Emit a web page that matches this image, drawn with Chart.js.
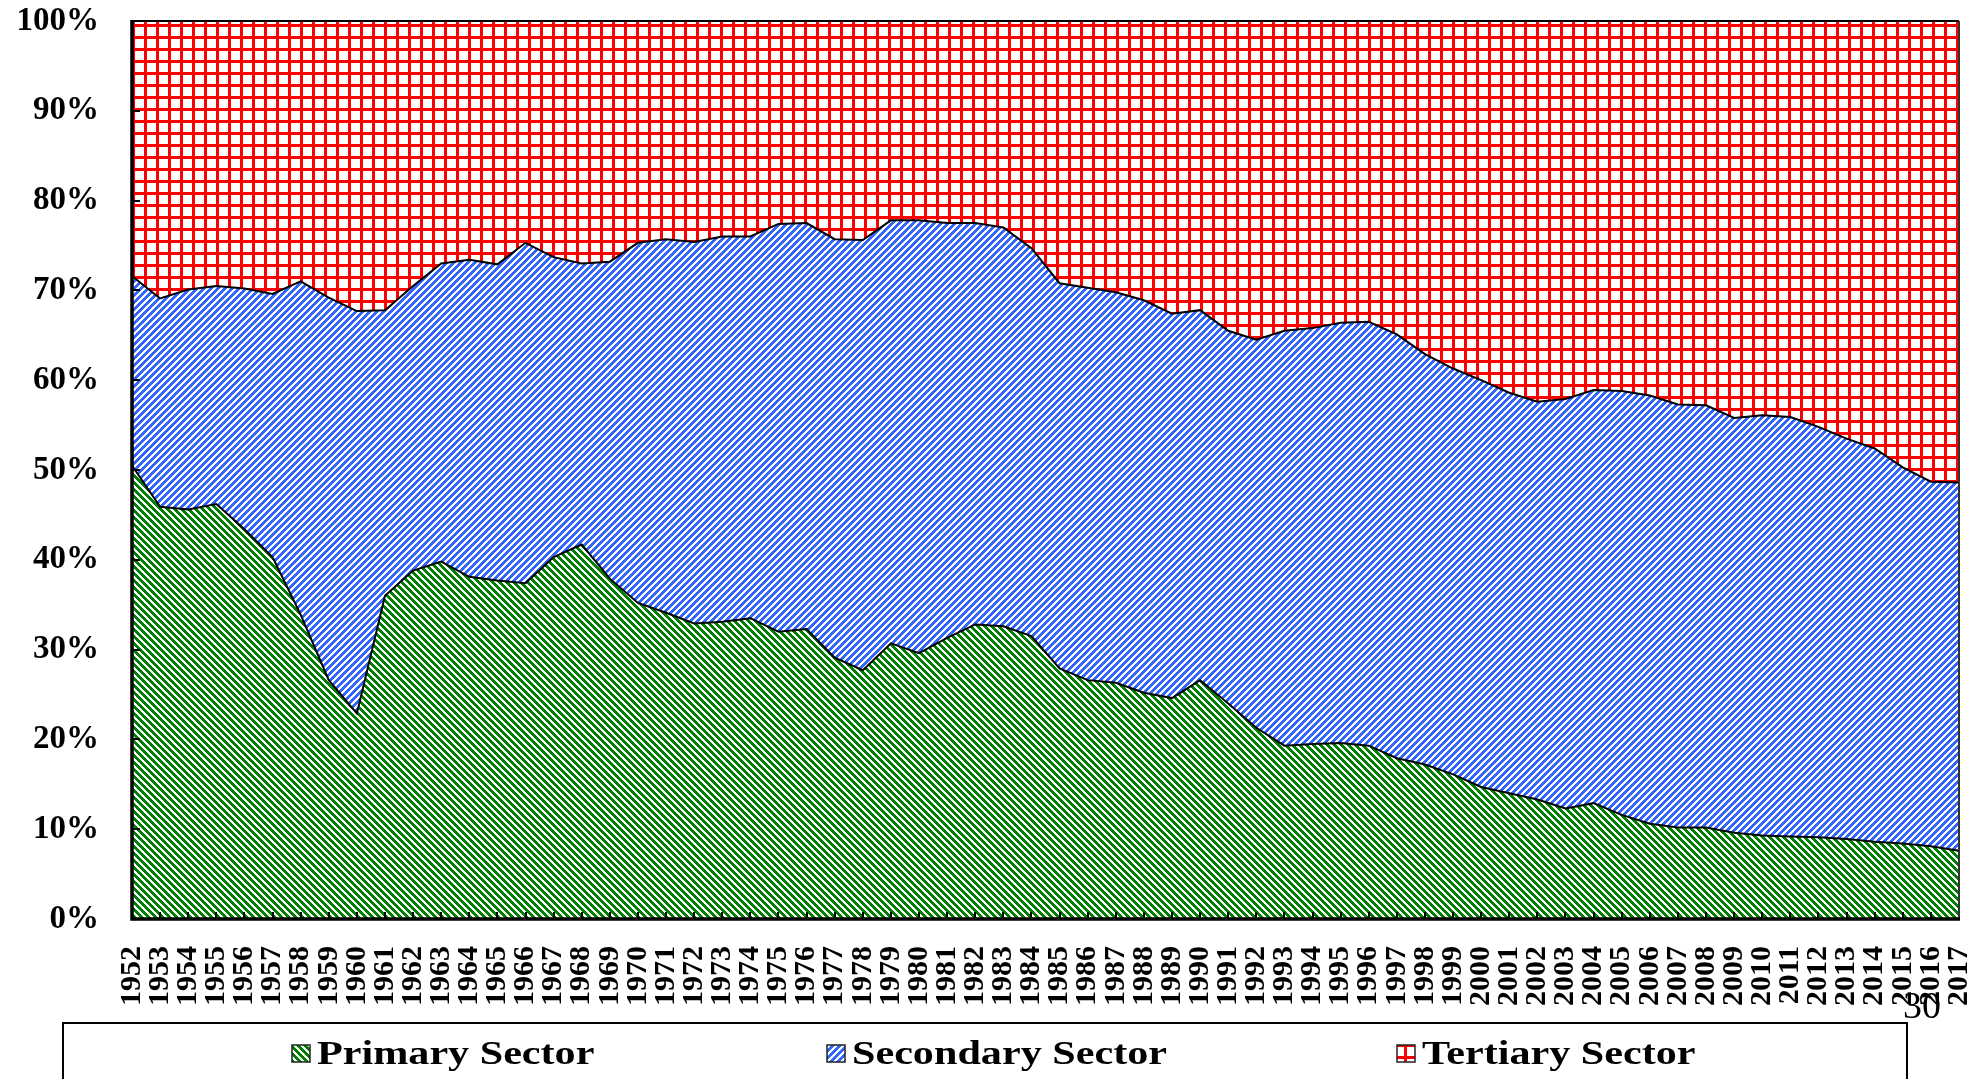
<!DOCTYPE html>
<html>
<head>
<meta charset="utf-8">
<script src="https://cdn.jsdelivr.net/npm/chart.js@4.4.0/dist/chart.umd.min.js"></script>
<style>
  html, body { margin: 0; padding: 0; background: #fff; }
  #wrap { width: 1988px; height: 1079px; position: relative; }
</style>
</head>
<body>
<div id="wrap"><canvas id="myChart"></canvas></div>
<script>
const years = ['1952','1953','1954','1955','1956','1957','1958','1959','1960','1961',
  '1962','1963','1964','1965','1966','1967','1968','1969','1970','1971',
  '1972','1973','1974','1975','1976','1977','1978','1979','1980','1981',
  '1982','1983','1984','1985','1986','1987','1988','1989','1990','1991',
  '1992','1993','1994','1995','1996','1997','1998','1999','2000','2001',
  '2002','2003','2004','2005','2006','2007','2008','2009','2010','2011',
  '2012','2013','2014','2015','2016','2017'];

// shares in %
const primary = [50.5,45.9,45.6,46.2,43.4,40.3,33.9,26.6,22.9,36.0,
  38.8,39.8,38.1,37.7,37.4,40.3,41.7,37.9,35.2,34.1,
  32.9,33.1,33.5,32.0,32.3,29.1,27.7,30.7,29.6,31.3,
  32.8,32.6,31.5,27.9,26.6,26.3,25.2,24.6,26.6,24.0,
  21.3,19.3,19.5,19.6,19.3,17.9,17.2,16.1,14.7,14.0,
  13.3,12.3,12.9,11.6,10.6,10.2,10.2,9.6,9.3,9.2,
  9.1,8.9,8.6,8.4,8.1,7.6];

const secondary = [21.1,23.2,24.5,24.3,26.8,29.3,37.1,42.6,44.8,31.8,
  31.7,33.2,35.3,35.2,37.9,33.4,31.3,35.3,40.1,41.6,
  42.5,42.9,42.5,45.4,45.2,46.6,47.9,47.1,48.2,46.2,
  44.7,44.4,43.2,42.9,43.7,43.5,43.7,42.8,41.2,41.5,
  43.2,46.2,46.3,46.8,47.2,47.2,45.7,45.2,45.3,44.6,
  44.3,45.6,46.0,47.2,47.7,47.1,47.0,46.2,46.8,46.7,
  45.7,44.6,43.8,41.9,40.6,41.0];

const tertiary = [28.4,30.9,29.9,29.5,29.8,30.4,29.0,30.8,32.3,32.2,
  29.5,27.0,26.6,27.1,24.7,26.3,27.0,26.8,24.7,24.3,
  24.6,24.0,24.0,22.6,22.5,24.3,24.4,22.2,22.2,22.5,
  22.5,23.0,25.3,29.2,29.7,30.2,31.1,32.6,32.2,34.5,
  35.5,34.5,34.2,33.6,33.5,34.9,37.1,38.7,40.0,41.4,
  42.4,42.1,41.1,41.2,41.7,42.7,42.8,44.2,43.9,44.1,
  45.2,46.5,47.6,49.7,51.3,51.4];

const seriesNames = ['Primary Sector', 'Secondary Sector', 'Tertiary Sector'];
const pageNumber = '30';

const canvas = document.getElementById('myChart');
const ctx = canvas.getContext('2d');

// crisp pixel hatching like the office patterns
function hatch(color, dir) {
  const s = 7, c = document.createElement('canvas');
  c.width = s; c.height = s;
  const g = c.getContext('2d');
  g.fillStyle = '#fff';
  g.fillRect(0, 0, s, s);
  g.fillStyle = color;
  for (let px = 0; px < s; px++) {
    for (let py = 0; py < s; py++) {
      const k = dir === '/' ? (px + py) % s : ((px - py) % s + s) % s;
      if (k < 4) g.fillRect(px, py, 1, 1);
    }
  }
  return ctx.createPattern(c, 'repeat');
}

function grid(color) {
  const s = 12, c = document.createElement('canvas');
  c.width = s; c.height = s;
  const g = c.getContext('2d');
  g.fillStyle = '#fff';
  g.fillRect(0, 0, s, s);
  g.fillStyle = color;
  g.fillRect(0, 0, 3, s);
  g.fillRect(0, 0, s, 3);
  return ctx.createPattern(c, 'repeat');
}

const greenFill = hatch('#008000', '\\');
const blueFill = hatch('#3366ff', '/');
const redFill = grid('#ff0000');

const serif = "'Liberation Serif', 'Times New Roman', serif";

const extras = {
  id: 'extras',
  afterDatasetsDraw(chart) {
    const { ctx, chartArea: a, scales: { x, y } } = chart;
    ctx.save();
    ctx.strokeStyle = '#000';
    ctx.lineWidth = 2;
    // tick marks point inward
    y.ticks.forEach(t => {
      const py = Math.round(y.getPixelForValue(t.value));
      ctx.beginPath(); ctx.moveTo(a.left, py); ctx.lineTo(a.left + 8, py); ctx.stroke();
    });
    years.forEach((yr, i) => {
      const px = Math.round(x.getPixelForValue(i));
      ctx.beginPath(); ctx.moveTo(px, a.bottom); ctx.lineTo(px, a.bottom - 7); ctx.stroke();
    });
    // frame
    ctx.beginPath(); ctx.moveTo(a.left, a.top); ctx.lineTo(a.right, a.top); ctx.stroke();
    ctx.strokeStyle = '#333';
    ctx.beginPath(); ctx.moveTo(a.right, a.top); ctx.lineTo(a.right, a.bottom); ctx.stroke();
    ctx.strokeStyle = '#000';
    ctx.lineWidth = 3.5;
    ctx.beginPath(); ctx.moveTo(a.left, a.top - 1); ctx.lineTo(a.left, a.bottom); ctx.lineTo(a.right + 1, a.bottom); ctx.stroke();
    ctx.restore();
  },
  afterDraw(chart) {
    const ctx = chart.ctx;
    ctx.save();
    // legend box
    ctx.strokeStyle = '#000';
    ctx.lineWidth = 2;
    ctx.strokeRect(63, 1023, 1907 - 63, 120);
    const boxX = [292, 827, 1397];
    chart.data.datasets.forEach((ds, i) => {
      ctx.fillStyle = ds.backgroundColor;
      ctx.fillRect(boxX[i], 1045, 18, 17);
      ctx.strokeStyle = '#222';
      ctx.lineWidth = 1.5;
      ctx.strokeRect(boxX[i], 1045, 18, 17);
      ctx.save();
      ctx.translate(boxX[i] + 25, 1064);
      ctx.scale(1.24, 1);
      ctx.fillStyle = '#000';
      ctx.font = 'bold 34px ' + serif;
      ctx.textBaseline = 'alphabetic';
      ctx.fillText(ds.label, 0, 0);
      ctx.restore();
    });
    // page number overlapping the last labels
    ctx.fillStyle = '#000';
    ctx.font = '38px ' + serif;
    ctx.textAlign = 'center';
    ctx.textBaseline = 'alphabetic';
    ctx.fillText(pageNumber, 1922, 1018);
    ctx.restore();
  }
};

const chart = new Chart(ctx, {
  type: 'line',
  data: {
    labels: years,
    datasets: [
      { label: seriesNames[0], data: primary, backgroundColor: greenFill, borderColor: '#000', borderWidth: 2, fill: 'origin' },
      { label: seriesNames[1], data: secondary, backgroundColor: blueFill, borderColor: '#000', borderWidth: 2, fill: '-1' },
      { label: seriesNames[2], data: tertiary, backgroundColor: redFill, borderColor: 'rgba(0,0,0,0)', borderWidth: 0, fill: '-1' }
    ]
  },
  options: {
    responsive: true,
    maintainAspectRatio: false,
    devicePixelRatio: 1,
    animation: false,
    layout: { padding: { top: 21, right: 29, left: 0, bottom: 0 } },
    elements: { point: { radius: 0, hoverRadius: 0 }, line: { tension: 0 } },
    plugins: { legend: { display: false }, tooltip: { enabled: false } },
    scales: {
      x: {
        offset: false,
        grid: { display: false, drawTicks: false },
        border: { display: false },
        ticks: {
          autoSkip: false, maxRotation: 90, minRotation: 90, padding: 27,
          color: '#000', font: { family: serif, size: 30, weight: 'bold' }
        },
        afterFit(s) { s.height = 160; s.paddingLeft = 0; s.paddingRight = 0; }
      },
      y: {
        stacked: true,
        min: 0, max: 100,
        grid: { display: false, drawTicks: false },
        border: { display: false },
        ticks: {
          stepSize: 10, padding: 33,
          color: '#000', font: { family: serif, size: 33, weight: 'bold' },
          callback: v => v + '%'
        },
        afterFit(s) { s.width = 132; s.paddingTop = 0; s.paddingBottom = 0; }
      }
    }
  },
  plugins: [extras]
});
</script>
</body>
</html>
